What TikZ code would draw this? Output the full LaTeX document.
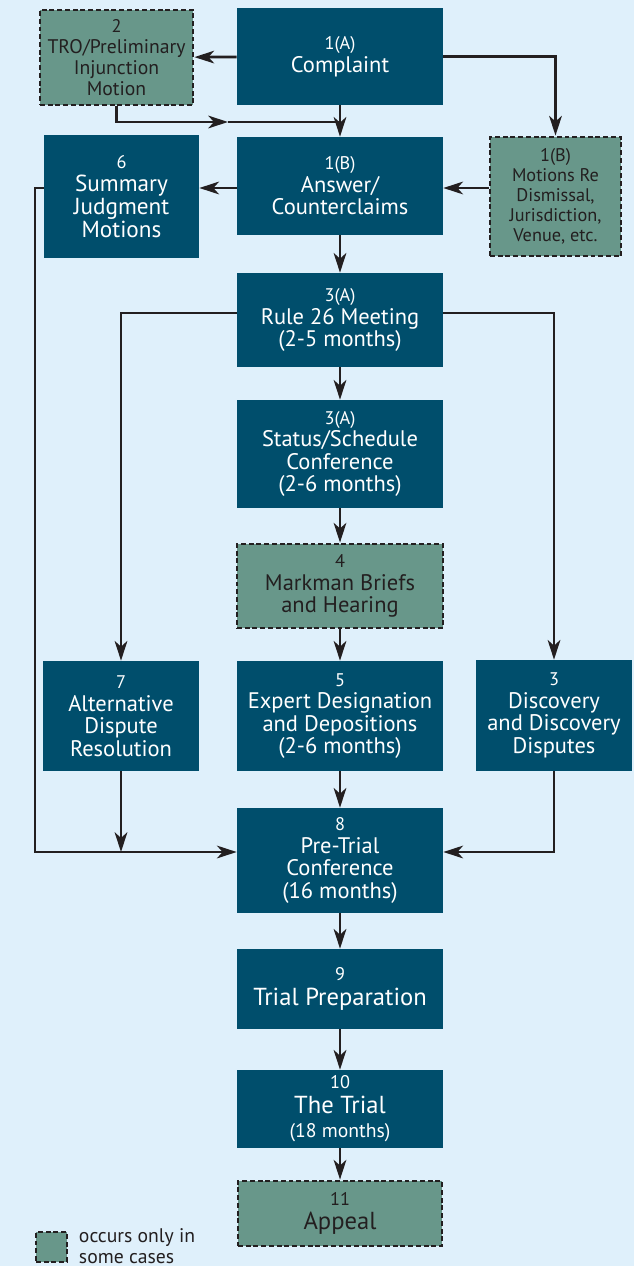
\documentclass[tikz,border=0pt]{standalone}
\usepackage{fontspec}
\setmainfont{PT Sans}
\usetikzlibrary{arrows.meta}

\definecolor{bgblue}{HTML}{DFF0FB}
\definecolor{stepblue}{HTML}{004E6C}
\definecolor{optgreen}{HTML}{68978A}
\definecolor{inkdark}{HTML}{231F20}
\newcommand{\stepno}[1]{{\fontsize{13}{13.5}\selectfont #1}}

\begin{document}
\begin{tikzpicture}[
    x=0.025cm, y=-0.025cm,
    every node/.style={font=\fontsize{16}{16}\selectfont},
    stepbox/.style={rectangle, fill=stepblue, text=white, align=center, inner sep=0pt, minimum width=5.15cm},
    optbox/.style={rectangle, fill=optgreen, draw=inkdark, line width=2pt, dash pattern=on 3.5pt off 2pt, text=inkdark, align=center, inner sep=0pt},
    arrow/.style={-{Stealth[length=14pt, width=9pt, inset=4pt]}, line width=1.9pt, draw=inkdark},
    line/.style={line width=1.9pt, draw=inkdark}
]

% background and bounding box
\fill[bgblue] (0,0) rectangle (634,1266);
\useasboundingbox (0,0) rectangle (634,1266);

% ============ PLEADINGS (TOP) ============
\node[stepbox, minimum height=2.425cm] (comp) at (340,56.5) {\stepno{1(A)}\\Complaint};
\node[optbox, minimum width=3.825cm, minimum height=2.375cm, font=\fontsize{14}{15}\selectfont] (tro) at (116.5,57.5) {\stepno{2}\\TRO/Preliminary\\Injunction\\Motion};
\node[stepbox, minimum height=2.45cm] (ans) at (340,186) {\stepno{1(B)}\\Answer/\\Counterclaims};
\node[optbox, minimum width=3.275cm, minimum height=2.975cm, font=\fontsize{13}{14.2}\selectfont] (mot) at (555.5,196.5) {\stepno{1(B)}\\Motions Re\\Dismissal,\\Jurisdiction,\\Venue, etc.};
\node[stepbox, minimum width=3.875cm, minimum height=3.075cm, font=\fontsize{16.5}{16.5}\selectfont] (summ) at (121.5,196.5) {\stepno{6}\\Summary\\Judgment\\Motions};

% ============ PRE-TRIAL STEPS (MIDDLE) ============
\node[stepbox, minimum height=2.35cm] (rule) at (340,320) {\stepno{3(A)}\\Rule 26 Meeting\\(2-5 months)};
\node[stepbox, minimum height=2.7cm] (stat) at (340,454) {\stepno{3(A)}\\Status/Schedule\\Conference\\(2-6 months)};
\node[optbox, minimum width=5.15cm, minimum height=2.1cm] (mark) at (340,586) {\stepno{4}\\Markman Briefs\\and Hearing};
\node[stepbox, minimum width=3.9cm, minimum height=2.75cm] (alt) at (121,716) {\stepno{7}\\Alternative\\Dispute\\Resolution};
\node[stepbox, minimum height=2.75cm] (exp) at (340,716) {\stepno{5}\\Expert Designation\\and Depositions\\(2-6 months)};
\node[stepbox, minimum width=3.9cm, minimum height=2.775cm] (disc) at (554,715.5) {\stepno{3}\\Discovery\\and Discovery\\Disputes};

% ============ TRIAL (BOTTOM) ============
\node[stepbox, minimum height=2.625cm] (pre) at (340,860.5) {\stepno{8}\\Pre-Trial\\Conference\\(16 months)};
\node[stepbox, minimum height=2cm, font=\fontsize{17.5}{18}\selectfont] (prep) at (340,989) {\stepno{9}\\Trial Preparation};
\node[stepbox, minimum height=1.95cm, font=\fontsize{17.5}{17.5}\selectfont] (trial) at (340,1109) {\stepno{10}\\The Trial\\{\fontsize{14}{14}\selectfont (18 months)}};
\node[optbox, minimum width=5.1cm, minimum height=1.625cm, font=\fontsize{17.5}{17}\selectfont] (app) at (340,1213.5) {\stepno{11}\\Appeal};

% Legend
\node[optbox, minimum width=0.775cm, minimum height=0.75cm] (legbox) at (51.5,1247) {};
\node[anchor=west, align=left, text=inkdark, font=\fontsize{14}{14.5}\selectfont] (legtext) at (74,1246) {occurs only in\\some cases};

% ============ CONNECTORS ============
\coordinate (trojoin) at (340,122);
\coordinate (tromid) at (228,122);
\coordinate (railtop) at (35,188);
\coordinate (prerail) at (35,852);
\coordinate (rulerail) at (340,313);

\draw[arrow] (comp) -- (tro);
\draw[arrow] (comp.east) -| (mot.north);
\draw[arrow] (comp) -- (ans);
\draw[arrow] (tro.south) |- (tromid);
\draw[line] (tromid) -- (trojoin);
\draw[arrow] (ans.west |- railtop) -- (summ.east |- railtop);
\draw[arrow] (mot.west |- railtop) -- (ans.east |- railtop);
\draw[arrow] (summ.west |- railtop) -- (railtop) |- (pre.west |- prerail);
\draw[arrow] (ans) -- (rule);
\draw[arrow] (rule.west |- rulerail) -| (alt.north);
\draw[arrow] (rule.east |- rulerail) -| (disc.north);
\draw[arrow] (rule) -- (stat);
\draw[arrow] (stat) -- (mark);
\draw[arrow] (mark) -- (exp);
\draw[arrow] (exp) -- (pre);
\draw[arrow] (alt.south) -- (alt.south |- prerail);
\draw[arrow] (disc.south) |- (pre.east |- prerail);
\draw[arrow] (pre) -- (prep);
\draw[arrow] (prep) -- (trial);
\draw[arrow] (trial) -- (app);

\end{tikzpicture}
\end{document}
